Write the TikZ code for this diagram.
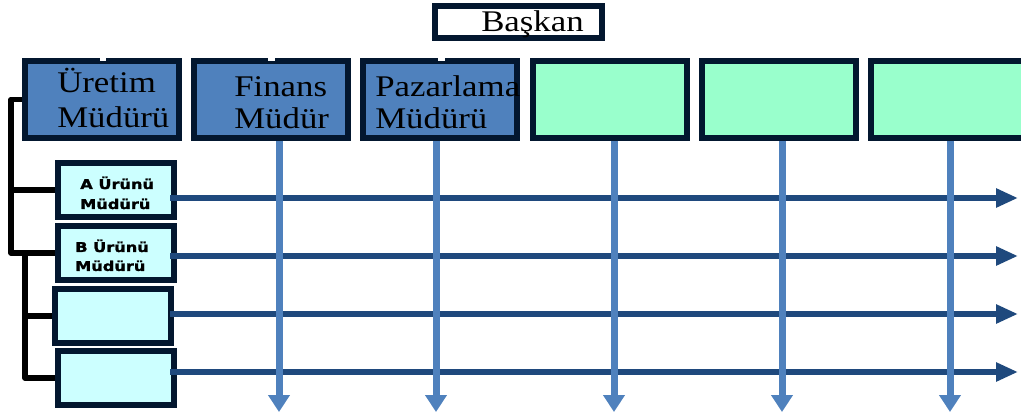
\documentclass[tikz,border=0pt]{standalone}
\usepackage{fontspec}
\setmainfont{Liberation Serif}
\newfontfamily\smallboldfont{DejaVu Sans}[BoldFeatures={FakeBold=1.5}]
\usetikzlibrary{arrows.meta}
\definecolor{navy}{HTML}{03172F}
\definecolor{boxblue}{HTML}{4F81BD}
\definecolor{mint}{HTML}{99FFCC}
\definecolor{icecyan}{HTML}{CCFFFF}
\definecolor{arrowdark}{HTML}{1F497D}
\newcommand\twoline[4]{\scalebox{#1}[1]{\renewcommand\arraystretch{1}\begin{tabular}[t]{@{}l@{}}#2\\[#3]#4\end{tabular}}}
\begin{document}
\begin{tikzpicture}[x=0.75pt,y=-0.75pt,
  box/.style={draw=navy, line width=4.5pt, inner sep=0pt},
  topbox/.style={box, minimum width=115.5pt, minimum height=57.75pt},
  subbox/.style={box, fill=icecyan, minimum width=87pt, minimum height=40.5pt},
  bigtext/.style={inner sep=0pt, anchor=base west, font=\fontsize{22.5pt}{26.25pt}\selectfont},
  smalltext/.style={inner sep=0pt, anchor=base west, font=\smallboldfont\bfseries\fontsize{10.1pt}{15pt}\selectfont},
  varrow/.style={draw=boxblue, line width=5.25pt, -{Triangle[width=15.75pt,length=12.75pt]}},
  harrow/.style={draw=arrowdark, line width=4.1pt, -{Triangle[width=13.5pt,length=16.5pt]}},
  bracket/.style={draw=black, line width=4.2pt, line join=round}
]
\useasboundingbox (0,0) rectangle (1021,417);
\clip (0,0) rectangle (1021,417);

% President
\node[box, fill=white, minimum width=125.25pt, minimum height=24pt] (pres) at (518.5,22) {};
\node[bigtext] (t-pres) at (481,32) {\scalebox{1.16}[1]{Başkan}};

% top managers
\node[topbox, fill=boxblue] (ure) at (102,99.5) {};
\node[topbox, fill=boxblue] (fin) at (271,99.5) {};
\node[topbox, fill=boxblue] (paz) at (440,99.5) {};
\node[topbox, fill=mint] (g1) at (610,99.5) {};
\node[topbox, fill=mint] (g2) at (779,99.5) {};
\node[topbox, fill=mint] (g3) at (948,99.5) {};

% notches
\fill[white] (100,57.5) rectangle (106,61);
\fill[white] (268,57.5) rectangle (275,61);
\fill[white] (438,57.5) rectangle (445,61);

\node[bigtext] (t-ure) at (57,93) {\twoline{1.16}{Üretim}{0pt}{Müdürü}};
\node[bigtext] (t-fin) at (234,96.5) {\twoline{1.16}{Finans}{-2.6pt}{Müdür}};
\node[bigtext] (t-paz) at (375,96.5) {\twoline{1.16}{Pazarlama}{-2.6pt}{Müdürü}};

% product managers
\node[subbox] (pa) at (116,190) {};
\node[subbox] (pb) at (116,253) {};
\node[subbox] (pc) at (113,316) {};
\node[subbox] (pd) at (116,378) {};
\node[smalltext] (t-pa) at (80,189) {\twoline{1.2}{A Ürünü}{0pt}{Müdürü}};
\node[smalltext] (t-pb) at (75,252) {\twoline{1.2}{B Ürünü}{-0.8pt}{Müdürü}};

% bracket lines
\coordinate (k1) at (11,253);
\coordinate (k2) at (25,253);
\coordinate (k3) at (25,378);
\draw[bracket] (ure.west) -| (k1) -- (pb.west);
\draw[bracket] (pa.west) -- (pa.west -| k1);
\draw[bracket] (k2) -- (k3) -- (pd.west);
\draw[bracket] (pc.west) -- (pc.west -| k2);

% horizontal arrows
\coordinate (ha) at (1018,198);
\coordinate (hb) at (1018,256);
\coordinate (hc) at (1018,314);
\coordinate (hd) at (1018,372);
\draw[harrow] ([xshift=-5.25pt]pa.east |- ha) -- (ha);
\draw[harrow] ([xshift=-5.25pt]pb.east |- hb) -- (hb);
\draw[harrow] ([xshift=-3pt]pc.east |- hc) -- (hc);
\draw[harrow] ([xshift=-5.25pt]pd.east |- hd) -- (hd);

% vertical arrows
\coordinate (va) at (279,412);
\coordinate (vb) at (436,412);
\coordinate (vc) at (614,412);
\coordinate (vd) at (782,412);
\coordinate (ve) at (950,412);
\draw[varrow] (fin.south -| va) -- (va);
\draw[varrow] (paz.south -| vb) -- (vb);
\draw[varrow] (g1.south -| vc) -- (vc);
\draw[varrow] (g2.south -| vd) -- (vd);
\draw[varrow] (g3.south -| ve) -- (ve);
\end{tikzpicture}
\end{document}
